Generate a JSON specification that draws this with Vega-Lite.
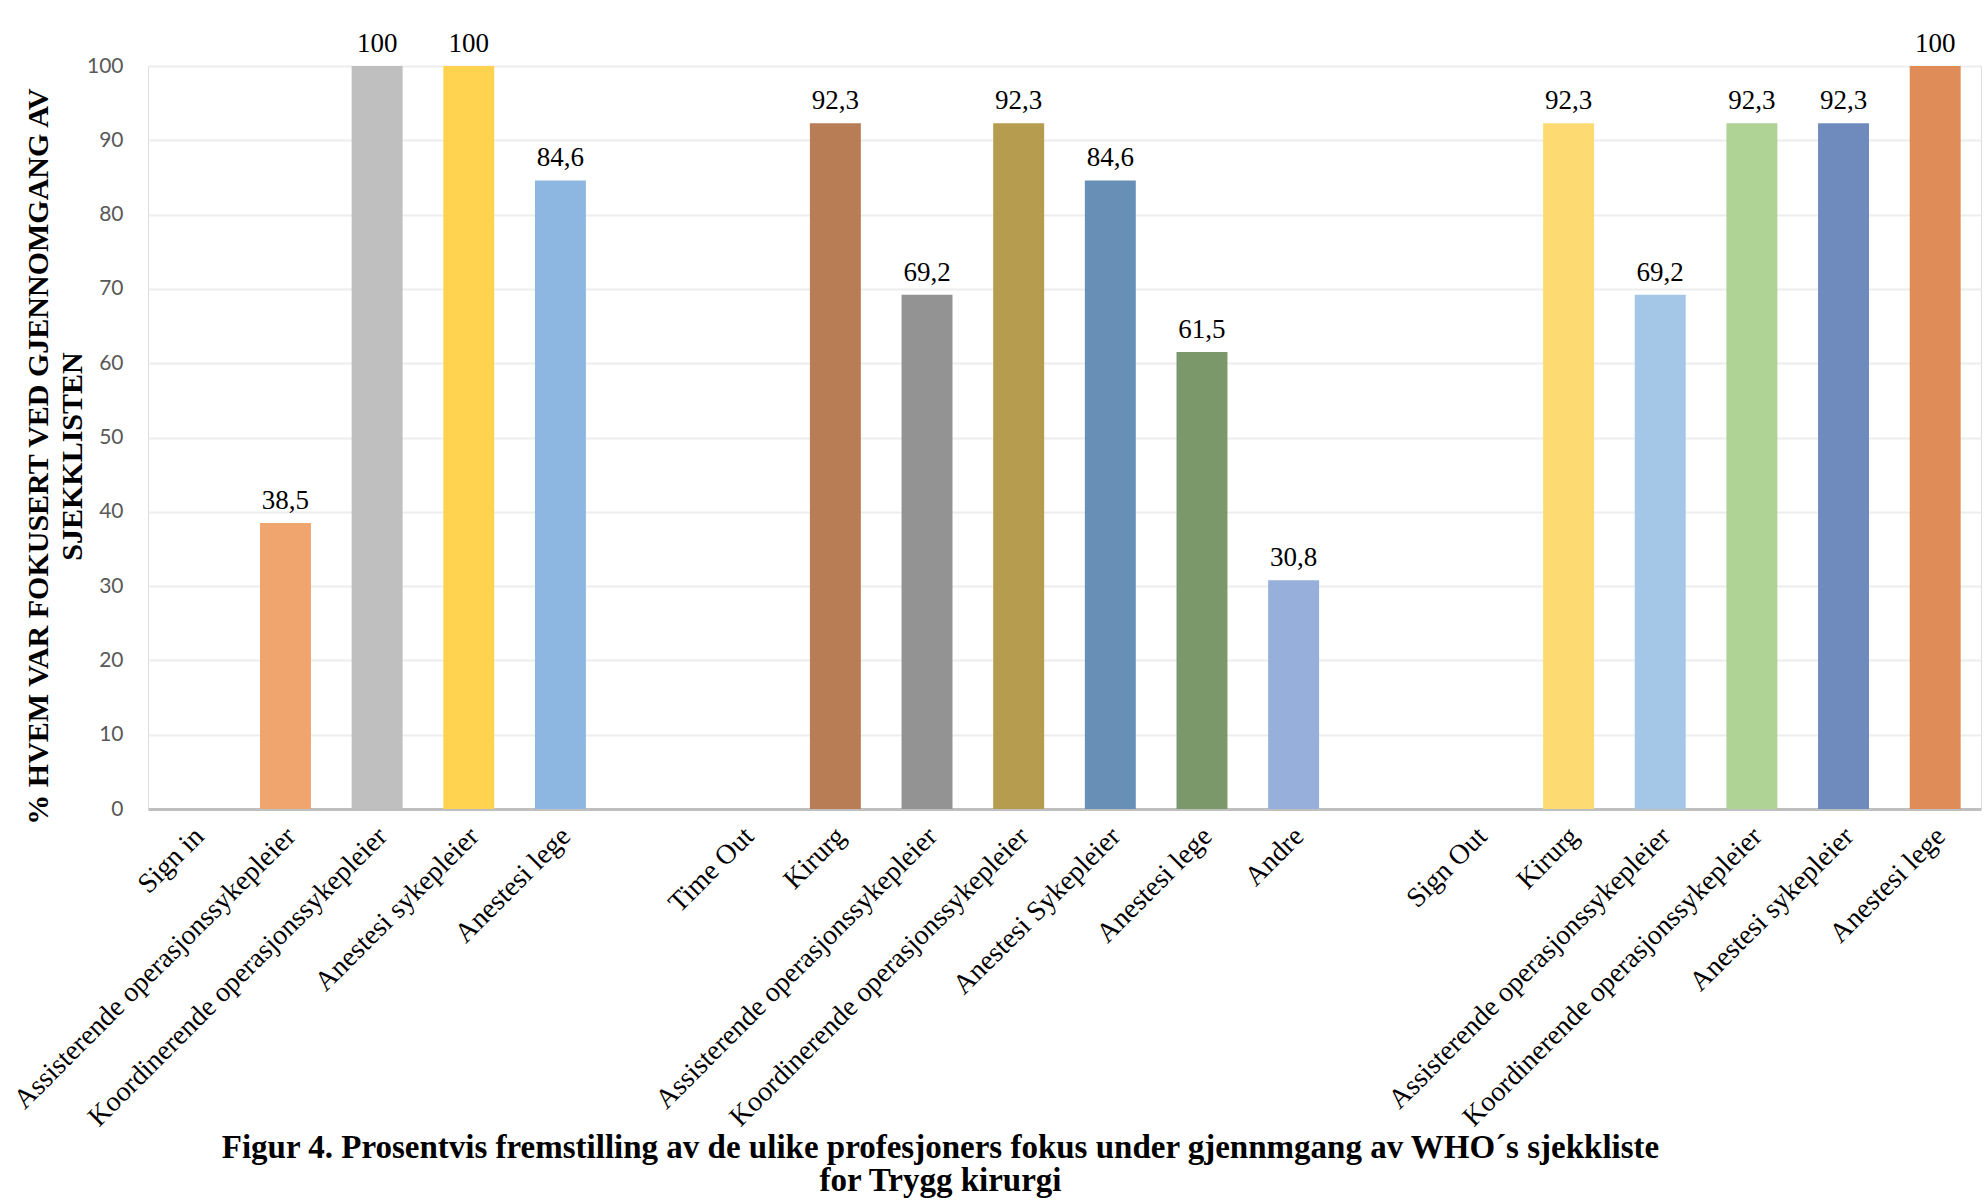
{
  "$schema": "https://vega.github.io/schema/vega-lite/v6.json",
  "autosize": {"type": "none"},
  "padding": {"left": 148, "top": 66, "right": 6, "bottom": 392},
  "width": 1833,
  "height": 743,
  "background": "white",
  "title": {
    "text": [
      "Figur 4. Prosentvis fremstilling av de ulike profesjoners fokus under gjennmgang av WHO´s sjekkliste",
      "for Trygg kirurgi"
    ],
    "orient": "bottom",
    "anchor": "middle",
    "font": "Liberation Serif",
    "fontWeight": "bold",
    "fontSize": 33,
    "lineHeight": 33,
    "color": "#000000",
    "dx": -124,
    "offset": 0
  },
  "data": {
    "values": [
      {"fase": "Sign in", "kategori": "Sign in", "prosent": null},
      {"fase": "Sign in", "kategori": "Assisterende operasjonssykepleier", "prosent": 38.5},
      {"fase": "Sign in", "kategori": "Koordinerende operasjonssykepleier", "prosent": 100},
      {"fase": "Sign in", "kategori": "Anestesi sykepleier", "prosent": 100},
      {"fase": "Sign in", "kategori": "Anestesi lege", "prosent": 84.6},
      {"fase": "Sign in", "kategori": "", "prosent": null},
      {"fase": "Time Out", "kategori": "Time Out", "prosent": null},
      {"fase": "Time Out", "kategori": "Kirurg", "prosent": 92.3},
      {"fase": "Time Out", "kategori": "Assisterende operasjonssykepleier", "prosent": 69.2},
      {"fase": "Time Out", "kategori": "Koordinerende operasjonssykepleier", "prosent": 92.3},
      {"fase": "Time Out", "kategori": "Anestesi Sykepleier", "prosent": 84.6},
      {"fase": "Time Out", "kategori": "Anestesi lege", "prosent": 61.5},
      {"fase": "Time Out", "kategori": "Andre", "prosent": 30.8},
      {"fase": "Time Out", "kategori": "", "prosent": null},
      {"fase": "Sign Out", "kategori": "Sign Out", "prosent": null},
      {"fase": "Sign Out", "kategori": "Kirurg", "prosent": 92.3},
      {"fase": "Sign Out", "kategori": "Assisterende operasjonssykepleier", "prosent": 69.2},
      {"fase": "Sign Out", "kategori": "Koordinerende operasjonssykepleier", "prosent": 92.3},
      {"fase": "Sign Out", "kategori": "Anestesi sykepleier", "prosent": 92.3},
      {"fase": "Sign Out", "kategori": "Anestesi lege", "prosent": 100}
    ]
  },
  "transform": [
    {"calculate": "datum.fase + '/' + datum.kategori", "as": "nokkel"},
    {"calculate": "datum.prosent == null ? '' : replace(format(datum.prosent, '.1~f'), '.', ',')", "as": "etikett"}
  ],
  "encoding": {
    "x": {
      "field": "nokkel",
      "type": "nominal",
      "sort": null,
      "scale": {"paddingInner": 0.444, "paddingOuter": 0.222},
      "axis": {
        "title": null,
        "labelExpr": "split(datum.value, '/')[1]",
        "labelAngle": -45,
        "labelAlign": "right",
        "labelBaseline": "top",
        "labelFont": "Liberation Serif",
        "labelFontSize": 28,
        "labelColor": "#000000",
        "labelPadding": 13,
        "labelOffset": -4,
        "labelLimit": 0,
        "labelOverlap": false,
        "ticks": false,
        "domain": true,
        "domainColor": "#BFBFBF",
        "domainWidth": 3,
        "grid": false
      }
    },
    "y": {
      "field": "prosent",
      "type": "quantitative",
      "scale": {"domain": [0, 100], "nice": false},
      "axis": {
        "title": ["% HVEM VAR FOKUSERT VED GJENNOMGANG AV", "SJEKKLISTEN"],
        "titleFont": "Liberation Serif",
        "titleFontWeight": "bold",
        "titleFontSize": 30,
        "titleLineHeight": 34,
        "titleColor": "#000000",
        "titleAngle": -90,
        "titleAlign": "center",
        "titleBaseline": "middle",
        "titleX": -110,
        "titleY": 390,
        "values": [0, 10, 20, 30, 40, 50, 60, 70, 80, 90, 100],
        "labelFont": "Lato",
        "labelFontSize": 21,
        "labelColor": "#595959",
        "labelPadding": 25,
        "ticks": false,
        "domain": false,
        "grid": true,
        "gridColor": "#EDEDED",
        "gridWidth": 2
      }
    }
  },
  "layer": [
    {
      "mark": {"type": "bar", "invalid": "show"},
      "encoding": {
        "color": {
          "field": "nokkel",
          "type": "nominal",
          "legend": null,
          "scale": {
            "domain": [
              "Sign in/Assisterende operasjonssykepleier",
              "Sign in/Koordinerende operasjonssykepleier",
              "Sign in/Anestesi sykepleier",
              "Sign in/Anestesi lege",
              "Time Out/Kirurg",
              "Time Out/Assisterende operasjonssykepleier",
              "Time Out/Koordinerende operasjonssykepleier",
              "Time Out/Anestesi Sykepleier",
              "Time Out/Anestesi lege",
              "Time Out/Andre",
              "Sign Out/Kirurg",
              "Sign Out/Assisterende operasjonssykepleier",
              "Sign Out/Koordinerende operasjonssykepleier",
              "Sign Out/Anestesi sykepleier",
              "Sign Out/Anestesi lege"
            ],
            "range": [
              "#F0A46E", "#BFBFBF", "#FFD34F", "#8DB7E0",
              "#B97D55", "#939393", "#B69C4F", "#6890B6", "#7B986A", "#96AFDB",
              "#FEDB72", "#A4C6E7", "#AFD394", "#6F8BBE", "#DF8C59"
            ]
          }
        }
      }
    },
    {
      "mark": {
        "type": "text",
        "invalid": "show",
        "font": "Liberation Serif",
        "fontSize": 27,
        "color": "#000000",
        "baseline": "alphabetic",
        "dy": -14
      },
      "encoding": {
        "text": {"field": "etikett", "type": "nominal"}
      }
    }
  ]
}
